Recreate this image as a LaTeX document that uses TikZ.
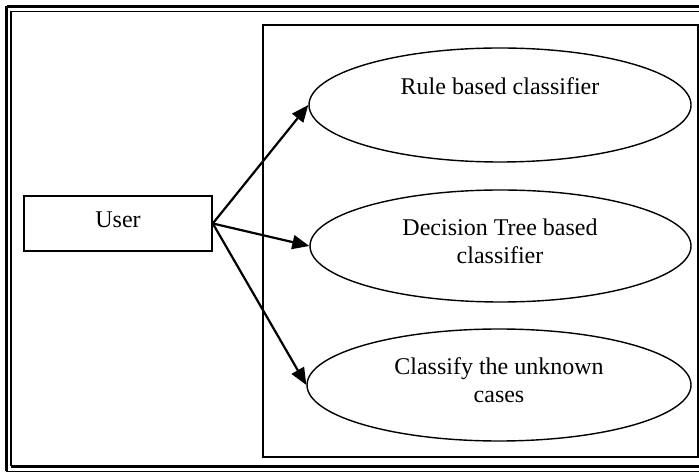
\documentclass[tikz,border=0pt]{standalone}
\usepackage{fontspec}
\setmainfont{Liberation Serif}
\usetikzlibrary{arrows.meta,shapes.geometric}

\begin{document}
\begin{tikzpicture}[
  x=0.5pt, y=-0.5pt,
  font=\fontsize{12}{14}\selectfont,
  usecase/.style={ellipse, draw, line width=0.7pt, inner sep=0pt},
  actorbox/.style={rectangle, draw, line width=0.8pt, inner sep=0pt,
                   minimum width=94pt, minimum height=27.5pt},
  caption/.style={inner sep=0pt, align=center},
  link/.style={line width=1.1pt, -{Triangle[length=8.5pt, width=7pt]}},
  thickrule/.style={line width=1.1pt},
  thinrule/.style={line width=0.65pt}
]
\useasboundingbox (0,0) rectangle (699,474);

% page frame: thick-thin double border, open on the right
\draw[thickrule] (6.5,6.5) -- (705,6.5);
\draw[thickrule] (6.5,6.5) -- (6.5,471);
\draw[thinrule] (11,11.5) -- (705,11.5);
\draw[thinrule] (11,11.5) -- (11,466);
\draw[thickrule] (10.5,466.5) -- (705,466.5);
\draw[thinrule] (6,471.5) -- (705,471.5);

% system boundary
\draw[line width=0.8pt] (263,25) rectangle (698,457);

% actor
\node[actorbox] (user) at (118,223.5) {};
\node[caption, anchor=base] (userlbl) at (118,228) {User};

% use cases
\node[usecase, minimum width=191pt, minimum height=57pt] (rule) at (500,105) {};
\node[usecase, minimum width=190.5pt, minimum height=56pt] (tree) at (500.5,246) {};
\node[usecase, minimum width=192pt, minimum height=56pt] (unknown) at (499,385) {};

\node[caption, anchor=base] (rulelbl) at (500,95) {Rule based classifier};
\node[caption] (treelbl) at (500,241) {Decision Tree based\\classifier};
\node[caption] (unknownlbl) at (499,380) {Classify the unknown\\cases};

% associations
\draw[link] (user.east) -- (rule.west);
\draw[link] (user.east) -- (tree.west);
\draw[link] (user.east) -- (unknown.west);
\end{tikzpicture}
\end{document}
